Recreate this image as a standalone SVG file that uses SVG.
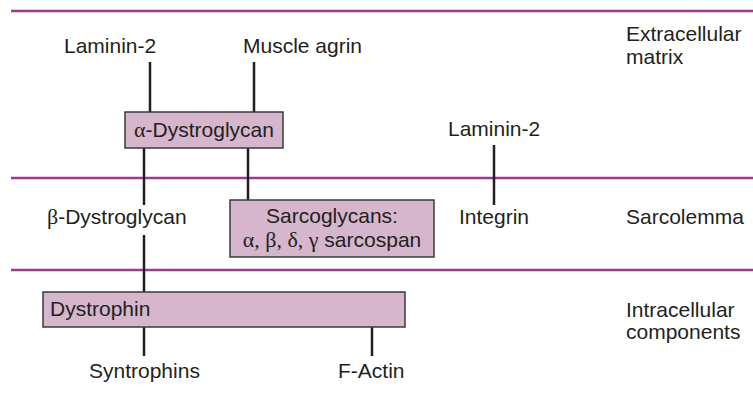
<svg xmlns="http://www.w3.org/2000/svg" width="753" height="409" viewBox="0 0 753 409">
<style>
text{font-family:"Liberation Sans",Arial,sans-serif;font-size:21px;fill:#231f20}
.g{font-family:"Liberation Serif","Times New Roman",serif;font-size:22px}
.band{stroke:#9b3d8a;stroke-width:2.5;fill:none}
.box{fill:#d5b6cc;stroke:#3a3a3a;stroke-width:1.5}
.conn line{stroke:#231f20;stroke-width:2.5}
</style>
<rect width="753" height="409" fill="#fff"/>
<g id="bands">
<line class="band" x1="11" y1="11" x2="753" y2="11"/>
<line class="band" x1="11" y1="178" x2="753" y2="178"/>
<line class="band" x1="11" y1="270" x2="753" y2="270"/>
</g>
<g id="connectors" class="conn">
<line x1="150" y1="62" x2="150" y2="112"/>
<line x1="254" y1="62" x2="254" y2="112"/>
<line x1="144" y1="148" x2="144" y2="205"/>
<line x1="144" y1="235" x2="144" y2="292"/>
<line x1="248" y1="148" x2="248" y2="200"/>
<line x1="494" y1="145" x2="494" y2="205"/>
<line x1="144" y1="327" x2="144" y2="356"/>
<line x1="372" y1="327" x2="372" y2="356"/>
</g>
<g id="laminin2-a"><text x="64" y="53">Laminin-2</text></g>
<g id="muscle-agrin"><text x="243" y="53">Muscle agrin</text></g>
<g id="alpha-dystroglycan">
<rect class="box" x="125" y="112" width="158" height="36"/>
<text x="134" y="137"><tspan class="g">α</tspan>-Dystroglycan</text>
</g>
<g id="beta-dystroglycan"><text x="47" y="224"><tspan class="g">β</tspan>-Dystroglycan</text></g>
<g id="sarcoglycans">
<rect class="box" x="230" y="200" width="204" height="57"/>
<text x="332" y="223" text-anchor="middle">Sarcoglycans:</text>
<text x="332" y="247" text-anchor="middle"><tspan class="g">α, β, δ, γ</tspan> sarcospan</text>
</g>
<g id="laminin2-b"><text x="448" y="136">Laminin-2</text></g>
<g id="integrin"><text x="459" y="224">Integrin</text></g>
<g id="dystrophin">
<rect class="box" x="43" y="292" width="362" height="35"/>
<text x="50" y="316">Dystrophin</text>
</g>
<g id="syntrophins"><text x="89" y="378">Syntrophins</text></g>
<g id="f-actin"><text x="338" y="378">F-Actin</text></g>
<g id="labels">
<text x="626" y="41">Extracellular</text>
<text x="626" y="64">matrix</text>
<text x="626" y="224">Sarcolemma</text>
<text x="626" y="317">Intracellular</text>
<text x="626" y="339">components</text>
</g>
</svg>
